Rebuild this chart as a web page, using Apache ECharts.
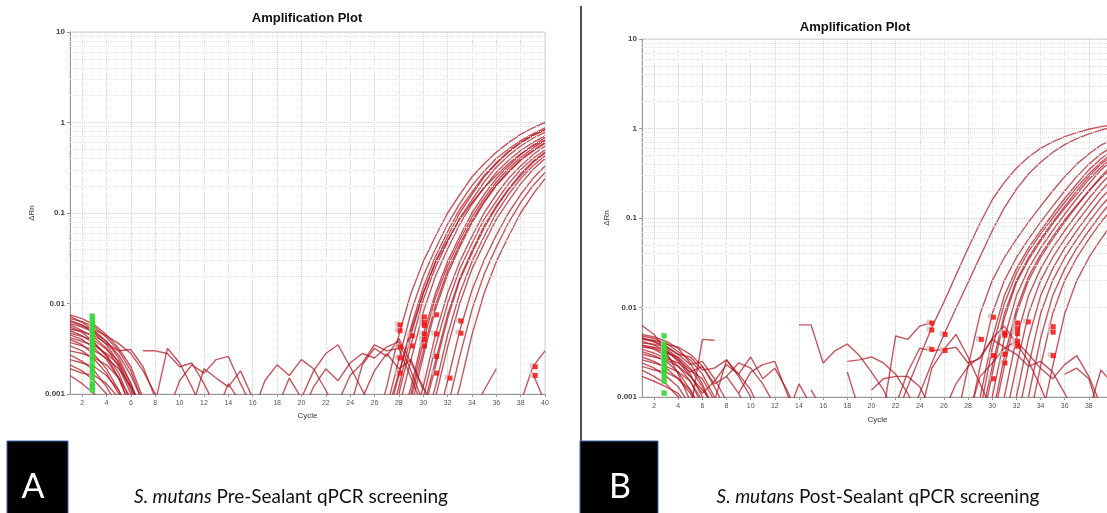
<!DOCTYPE html>
<html>
<head>
<meta charset="utf-8">
<script src="https://cdn.jsdelivr.net/npm/echarts@6.0.0/dist/echarts.min.js"></script>
<style>
html, body { margin: 0; padding: 0; background: #fff; }
#chart { width: 1107px; height: 513px; }
</style>
</head>
<body>
<div id="chart"></div>
<script>
// tick labels
const xTicks = [2, 4, 6, 8, 10, 12, 14, 16, 18, 20, 22, 24, 26, 28, 30, 32, 34, 36, 38, 40];
const minorY = [0.002, 0.003, 0.004, 0.005, 0.006, 0.007, 0.008, 0.009,
  0.02, 0.03, 0.04, 0.05, 0.06, 0.07, 0.08, 0.09,
  0.2, 0.3, 0.4, 0.5, 0.6, 0.7, 0.8, 0.9,
  2, 3, 4, 5, 6, 7, 8, 9];

// ---- panel A (pre-sealant) ----
// baseline traces, each from cycle 1
const baseA = [
  [0.0075, 0.0068, 0.0058, 0.0045, 0.0032, 0.002, 0.0009],
  [0.0072, 0.0062, 0.005, 0.0038, 0.0025, 0.0013, 0.0006],
  [0.0068, 0.0063, 0.0055, 0.0042, 0.003, 0.0018, 0.0008],
  [0.0065, 0.0058, 0.0047, 0.0035, 0.0022, 0.0011, 0.0005],
  [0.006, 0.0055, 0.0048, 0.0038, 0.0027, 0.0016, 0.0008],
  [0.0058, 0.005, 0.0042, 0.0032, 0.002, 0.001, 0.0005],
  [0.0055, 0.0048, 0.0037, 0.0026, 0.0015, 0.0007],
  [0.0052, 0.0049, 0.0044, 0.0036, 0.003, 0.0031, 0.002, 0.0009],
  [0.005, 0.0044, 0.0036, 0.0027, 0.0017, 0.0008],
  [0.0047, 0.0043, 0.0039, 0.0031, 0.0023, 0.0013, 0.0006],
  [0.0045, 0.004, 0.0032, 0.0024, 0.0015, 0.0007],
  [0.0042, 0.0038, 0.0034, 0.0028, 0.0021, 0.0012, 0.0006],
  [0.004, 0.0035, 0.0027, 0.0019, 0.0011, 0.0005],
  [0.0037, 0.0034, 0.003, 0.0025, 0.0019, 0.0012, 0.0006],
  [0.0034, 0.003, 0.0024, 0.0017, 0.001, 0.0005],
  [0.003, 0.0028, 0.0025, 0.0021, 0.0015, 0.0009],
  [0.0027, 0.0023, 0.0018, 0.0012, 0.0007],
  [0.0024, 0.0022, 0.002, 0.0016, 0.0011, 0.0006],
  [0.0021, 0.0018, 0.0014, 0.001, 0.0006],
  [0.0019, 0.0017, 0.0016, 0.0013, 0.0009],
  [0.0016, 0.0013, 0.001, 0.0007],
  [0.0063, 0.0057, 0.0051, 0.0044, 0.0036, 0.0028, 0.0018, 0.001, 0.0005]
];
// noise fragments: [start cycle, values]
const noiseA = [
  [7, [0.003, 0.003, 0.0028, 0.002, 0.0022, 0.0013, 0.0007]],
  [8, [0.0008, 0.0032, 0.0022, 0.0012, 0.0006]],
  [9, [0.0006, 0.0014, 0.0021, 0.0017, 0.0024, 0.0026, 0.0013, 0.0007]],
  [11, [0.0007, 0.0019, 0.0015, 0.0012, 0.0018, 0.0009]],
  [13, [0.0006, 0.0013, 0.0008]],
  [16, [0.0006, 0.0014, 0.0021, 0.0016, 0.0024, 0.0019, 0.0011, 0.0006]],
  [18, [0.0007, 0.0015, 0.0009, 0.0018, 0.0028, 0.0035, 0.002, 0.0011, 0.0006]],
  [20, [0.0006, 0.0012, 0.0019, 0.0014, 0.0022, 0.0028, 0.0025, 0.0033, 0.0038, 0.0018, 0.0008]],
  [23, [0.0008, 0.0016, 0.0022, 0.0035, 0.003, 0.0032, 0.0015, 0.0007]],
  [24, [0.0007, 0.0021, 0.0032, 0.0026, 0.0041, 0.0022, 0.0012, 0.0006]],
  [25, [0.0009, 0.0018, 0.0028, 0.0019, 0.0024, 0.0011]],
  [34, [0.0006, 0.0011, 0.0019]],
  [38, [0.0008, 0.002, 0.003]],
  [39, [0.0017, 0.0008]]
];
// amplification curves: [start cycle, values up to cycle 40]
const ampA = [
  [26, [0.0004, 0.0012, 0.0045, 0.013, 0.029, 0.055, 0.1, 0.16, 0.25, 0.35, 0.47, 0.6, 0.74, 0.87, 1.0]],
  [27, [0.0007, 0.0024, 0.008, 0.02, 0.04, 0.075, 0.127, 0.2, 0.29, 0.4, 0.51, 0.63, 0.75, 0.87]],
  [27, [0.0004, 0.0012, 0.0045, 0.013, 0.029, 0.055, 0.1, 0.16, 0.25, 0.35, 0.47, 0.6, 0.72, 0.82]],
  [27, [0.0005, 0.0016, 0.0055, 0.015, 0.033, 0.062, 0.11, 0.17, 0.26, 0.36, 0.48, 0.6, 0.72, 0.84]],
  [27, [0.0006, 0.0017, 0.005, 0.013, 0.028, 0.05, 0.085, 0.13, 0.19, 0.26, 0.35, 0.45, 0.55, 0.64]],
  [28, [0.001, 0.0035, 0.011, 0.025, 0.048, 0.088, 0.14, 0.22, 0.32, 0.43, 0.55, 0.67, 0.78]],
  [28, [0.0007, 0.0024, 0.008, 0.02, 0.04, 0.075, 0.125, 0.19, 0.28, 0.38, 0.49, 0.6, 0.71]],
  [28, [0.0004, 0.0012, 0.0045, 0.013, 0.029, 0.055, 0.1, 0.16, 0.24, 0.33, 0.44, 0.56, 0.68]],
  [29, [0.001, 0.0038, 0.0115, 0.026, 0.05, 0.09, 0.145, 0.22, 0.31, 0.41, 0.52, 0.63]],
  [29, [0.0009, 0.003, 0.0095, 0.023, 0.045, 0.082, 0.135, 0.205, 0.29, 0.39, 0.49, 0.6]],
  [29, [0.0007, 0.0026, 0.0085, 0.021, 0.042, 0.078, 0.13, 0.2, 0.28, 0.38, 0.48, 0.59]],
  [29, [0.0004, 0.0012, 0.0045, 0.013, 0.029, 0.055, 0.1, 0.16, 0.24, 0.33, 0.44, 0.55]],
  [30, [0.0009, 0.0033, 0.01, 0.024, 0.046, 0.085, 0.135, 0.21, 0.3, 0.4, 0.5]],
  [30, [0.0007, 0.0023, 0.0075, 0.019, 0.038, 0.072, 0.12, 0.185, 0.27, 0.37, 0.47]],
  [30, [0.0006, 0.002, 0.0068, 0.018, 0.036, 0.068, 0.115, 0.18, 0.26, 0.36, 0.46]],
  [30, [0.0004, 0.0012, 0.0045, 0.013, 0.029, 0.055, 0.1, 0.16, 0.24, 0.33, 0.43]],
  [31, [0.0009, 0.0033, 0.01, 0.024, 0.046, 0.085, 0.135, 0.21, 0.3, 0.4]],
  [31, [0.0004, 0.0014, 0.005, 0.014, 0.03, 0.057, 0.1, 0.16, 0.24, 0.33]],
  [32, [0.0007, 0.0026, 0.0085, 0.021, 0.042, 0.078, 0.13, 0.2, 0.28]],
  [32, [0.0004, 0.0012, 0.0045, 0.013, 0.029, 0.055, 0.1, 0.16, 0.24]]
];
const redA = [[28.1, 0.0058], [28.1, 0.005], [28.1, 0.0033], [28.1, 0.0025], [28.1, 0.0017],
  [29.1, 0.0044], [29.1, 0.0034], [30.1, 0.0071], [30.1, 0.0062], [30.1, 0.0057], [30.1, 0.0046],
  [30.1, 0.004], [30.1, 0.0034], [31.1, 0.0075], [31.1, 0.0046], [31.1, 0.0026], [31.1, 0.0017],
  [32.2, 0.0015], [33.1, 0.0064], [33.1, 0.0047], [39.2, 0.002], [39.2, 0.0016]];
const greenA = [0.0072, 0.0065, 0.006, 0.0055, 0.005, 0.0046, 0.0042, 0.0038, 0.0035, 0.0032,
  0.0029, 0.0026, 0.0024, 0.0021, 0.0019, 0.0017, 0.0015, 0.0013, 0.0012, 0.0011];

// ---- panel B (post-sealant) ----
const baseB = [
  [0.0063, 0.005, 0.0032, 0.0018, 0.0009],
  [0.005, 0.0047, 0.0042, 0.0035, 0.0024, 0.0014, 0.0007],
  [0.0048, 0.0045, 0.004, 0.0032, 0.0026, 0.0018, 0.001, 0.0005],
  [0.0046, 0.0042, 0.0035, 0.0027, 0.0018, 0.001, 0.0005],
  [0.0044, 0.0043, 0.0039, 0.0036, 0.003, 0.0022, 0.0013, 0.0007],
  [0.0042, 0.0038, 0.0033, 0.0026, 0.002, 0.0016, 0.0009],
  [0.004, 0.0039, 0.0036, 0.003, 0.0023, 0.0025, 0.0016, 0.0009],
  [0.0038, 0.0034, 0.0029, 0.0022, 0.0015, 0.0008],
  [0.0036, 0.0035, 0.0031, 0.0028, 0.0021, 0.0013, 0.0007],
  [0.0034, 0.0031, 0.0027, 0.0024, 0.0019, 0.0022, 0.0014, 0.0017, 0.0011, 0.0006],
  [0.0032, 0.0029, 0.0025, 0.0019, 0.0012, 0.0006],
  [0.003, 0.0028, 0.0026, 0.0022, 0.0017, 0.0012, 0.0008],
  [0.0028, 0.0025, 0.0021, 0.0016, 0.0011, 0.0006],
  [0.0026, 0.0024, 0.0022, 0.0019, 0.0015, 0.0009],
  [0.0024, 0.0021, 0.0017, 0.0013, 0.0008],
  [0.0022, 0.002, 0.0019, 0.0016, 0.0012, 0.0007],
  [0.002, 0.0017, 0.0014, 0.001, 0.0006],
  [0.0017, 0.0015, 0.0013, 0.0011, 0.0007],
  [0.0045, 0.0041, 0.0037, 0.003, 0.0028, 0.002, 0.0021, 0.0026, 0.0017, 0.001, 0.0006],
  [0.0038, 0.0036, 0.0033, 0.0025, 0.0017, 0.0011, 0.0015, 0.0023, 0.0018, 0.0012, 0.0006]
];
const noiseB = [
  [5, [0.0007, 0.0044, 0.0043]],
  [7, [0.0009, 0.0026, 0.0018, 0.0028, 0.0016, 0.0021, 0.0012, 0.0006]],
  [8, [0.0017, 0.0024, 0.0021, 0.0014, 0.0008]],
  [9, [0.0011, 0.0019, 0.0023, 0.0025, 0.0011, 0.0005]],
  [13, [0.0006, 0.0014, 0.0008]],
  [14, [0.0064, 0.0064, 0.0024, 0.0033, 0.0039, 0.0029, 0.0019, 0.0012, 0.0006]],
  [15, [0.0012, 0.0007]],
  [18, [0.0025, 0.0026, 0.0028, 0.0024, 0.0018, 0.0011, 0.0006]],
  [18, [0.0019, 0.0007]],
  [20, [0.0012, 0.0016, 0.0017, 0.0017, 0.0013, 0.0007]],
  [21, [0.0007, 0.0048, 0.0044, 0.0062, 0.0068]],
  [22, [0.0008, 0.0019, 0.0035, 0.0033, 0.0034, 0.005, 0.0028, 0.0014, 0.0007]],
  [24, [0.0006, 0.0021, 0.0034, 0.0036, 0.0024, 0.0027, 0.0045, 0.0062, 0.004, 0.0025, 0.0013, 0.0006]],
  [26, [0.0007, 0.0014, 0.0022, 0.0028, 0.0044, 0.0036, 0.003, 0.0022, 0.0025, 0.0019, 0.0011, 0.0006]],
  [28, [0.0006, 0.0017, 0.0024, 0.0035, 0.0042, 0.003, 0.0021, 0.0016, 0.0023, 0.0029, 0.0017, 0.0008]],
  [36, [0.0018, 0.0021, 0.0016, 0.0006]],
  [38, [0.0007, 0.002, 0.0014]]
];
const ampB = [
  [22, [0.0006, 0.0013, 0.0028, 0.006, 0.0115, 0.023, 0.046, 0.088, 0.16, 0.25, 0.36, 0.48, 0.6, 0.71, 0.81, 0.9, 0.98, 1.05, 1.1]],
  [23, [0.0005, 0.0011, 0.0024, 0.005, 0.0098, 0.019, 0.037, 0.072, 0.13, 0.21, 0.31, 0.42, 0.54, 0.66, 0.77, 0.87, 0.96, 1.04]],
  [27, [0.0005, 0.0022, 0.0085, 0.02, 0.036, 0.058, 0.09, 0.135, 0.2, 0.29, 0.4, 0.52, 0.65, 0.76]],
  [28, [0.0005, 0.0022, 0.0085, 0.02, 0.036, 0.058, 0.09, 0.135, 0.2, 0.29, 0.4, 0.52, 0.63]],
  [29, [0.001, 0.0045, 0.0135, 0.027, 0.046, 0.072, 0.11, 0.165, 0.24, 0.345, 0.46, 0.57]],
  [29, [0.0007, 0.0035, 0.011, 0.024, 0.042, 0.066, 0.1, 0.15, 0.22, 0.31, 0.42, 0.53]],
  [29, [0.0005, 0.0022, 0.0085, 0.02, 0.036, 0.058, 0.09, 0.135, 0.2, 0.29, 0.4, 0.5]],
  [29, [0.0004, 0.0018, 0.0075, 0.019, 0.034, 0.055, 0.086, 0.128, 0.185, 0.27, 0.37, 0.47]],
  [30, [0.001, 0.0045, 0.0135, 0.027, 0.046, 0.072, 0.11, 0.165, 0.24, 0.345, 0.45]],
  [30, [0.0005, 0.0022, 0.0085, 0.02, 0.036, 0.058, 0.09, 0.135, 0.2, 0.29, 0.4]],
  [30, [0.0006, 0.0028, 0.0095, 0.022, 0.039, 0.062, 0.095, 0.14, 0.2, 0.28, 0.37]],
  [31, [0.001, 0.0045, 0.0135, 0.027, 0.046, 0.072, 0.11, 0.165, 0.24, 0.33]],
  [31, [0.0005, 0.0022, 0.0085, 0.02, 0.036, 0.058, 0.09, 0.135, 0.2, 0.28]],
  [32, [0.001, 0.0045, 0.0135, 0.027, 0.046, 0.072, 0.11, 0.165, 0.23]],
  [32, [0.0005, 0.0022, 0.0085, 0.02, 0.036, 0.058, 0.09, 0.135, 0.19]],
  [33, [0.001, 0.0045, 0.0135, 0.027, 0.046, 0.072, 0.11, 0.16]],
  [33, [0.0005, 0.0022, 0.0085, 0.02, 0.036, 0.058, 0.09, 0.13]],
  [34, [0.0005, 0.0022, 0.0085, 0.02, 0.036, 0.058, 0.088]]
];
const redB = [[25, 0.0067], [25, 0.0056], [25, 0.0034], [26.1, 0.005], [26.1, 0.0033], [29.1, 0.0044],
  [30.1, 0.0078], [30.1, 0.0029], [30.1, 0.0016], [31.05, 0.0052], [31.05, 0.0049], [31.05, 0.003],
  [31.05, 0.0024], [32.1, 0.0067], [32.1, 0.0058], [32.1, 0.0051], [32.1, 0.0042], [32.1, 0.0037],
  [33, 0.0069], [35.05, 0.0061], [35.05, 0.0053], [35.05, 0.0029]];
const greenB = [0.0048, 0.0039, 0.0036, 0.0033, 0.003, 0.0028, 0.0026, 0.0024, 0.0022, 0.002,
  0.0019, 0.0017, 0.0015, 0.0011];
const greenCycle = 2.85;

const chart = echarts.init(document.getElementById('chart'));

const lineColor = 'rgba(176,20,32,0.72)';

function pts(start, vals) {
  return vals.map((v, i) => [start + i, v]);
}

function lineSeries(data, idx) {
  return {
    type: 'line', xAxisIndex: idx, yAxisIndex: idx, data: data,
    showSymbol: false, silent: true, clip: true,
    lineStyle: { color: lineColor, width: 1.4 }
  };
}

function panelSeries(idx, base, noise, amp, red, green) {
  const out = [];
  // minor log grid lines
  out.push({
    type: 'line', xAxisIndex: idx, yAxisIndex: idx, data: [], silent: true,
    markLine: {
      silent: true, symbol: ['none', 'none'], label: { show: false },
      lineStyle: { type: 'dotted', color: '#e4e4e4', width: 1 },
      data: minorY.map(v => ({ yAxis: v }))
    }
  });
  base.forEach(b => out.push(lineSeries(pts(1, b), idx)));
  noise.forEach(n => out.push(lineSeries(pts(n[0], n[1]), idx)));
  amp.forEach(a => out.push(lineSeries(pts(a[0], a[1]), idx)));
  const gData = green.map(v => [greenCycle, v]);
  out.push({
    type: 'scatter', xAxisIndex: idx, yAxisIndex: idx, data: gData, silent: true,
    symbol: 'rect', symbolSize: 5, symbolOffset: [-1, -1], itemStyle: { color: '#c4c4c4' }, z: 3
  });
  out.push({
    type: 'scatter', xAxisIndex: idx, yAxisIndex: idx, data: gData, silent: true,
    symbol: 'rect', symbolSize: 5, itemStyle: { color: '#1fe01f' }, z: 4
  });
  out.push({
    type: 'scatter', xAxisIndex: idx, yAxisIndex: idx, data: red, silent: true,
    symbol: 'rect', symbolSize: 5, symbolOffset: [-3, -1], itemStyle: { color: '#c8c8c8' }, z: 3
  });
  out.push({
    type: 'scatter', xAxisIndex: idx, yAxisIndex: idx, data: red, silent: true,
    symbol: 'rect', symbolSize: 5, itemStyle: { color: '#ff0000' }, z: 4
  });
  return out;
}

function xAxisCfg(idx, gap) {
  return {
    type: 'value', gridIndex: idx, min: 1, max: 40,
    name: 'Cycle', nameLocation: 'middle', nameGap: gap,
    nameTextStyle: { fontSize: 8, color: '#333', fontFamily: 'Liberation Sans' },
    axisLine: { lineStyle: { color: '#999' } },
    axisTick: { show: true, customValues: xTicks, length: 3, lineStyle: { color: '#999' } },
    axisLabel: { customValues: xTicks, fontSize: 7, color: '#555', margin: 6, fontFamily: 'Liberation Sans' },
    splitLine: { show: true, lineStyle: { type: 'dotted', color: '#d8d8d8' } }
  };
}

function yAxisCfg(idx, gap) {
  return {
    type: 'log', logBase: 10, gridIndex: idx, min: 0.001, max: 10,
    name: 'ΔRn', nameLocation: 'middle', nameGap: gap, nameRotate: 90,
    nameTextStyle: { fontSize: 8, color: '#333', fontFamily: 'Liberation Sans' },
    axisLine: { show: true, lineStyle: { color: '#999' } },
    axisTick: { show: true, length: 3, lineStyle: { color: '#999' } },
    axisLabel: { fontSize: 8, fontWeight: 'bold', color: '#444', margin: 5, fontFamily: 'Liberation Sans' },
    splitLine: { show: true, lineStyle: { type: 'dotted', color: '#d0d0d0' } }
  };
}

const captionFont = 'Lato';

const option = {
  animation: false,
  backgroundColor: '#fff',
  grid: [
    { left: 70, top: 32, width: 475, height: 362, show: true, borderColor: '#d0d0d0', outerBoundsMode: 'none' },
    { left: 642, top: 39, width: 471, height: 358, show: true, borderColor: '#d0d0d0', outerBoundsMode: 'none' }
  ],
  xAxis: [xAxisCfg(0, 16), xAxisCfg(1, 19)],
  yAxis: [yAxisCfg(0, 34), yAxisCfg(1, 31)],
  series: panelSeries(0, baseA, noiseA, ampA, redA, greenA)
    .concat(panelSeries(1, baseB, noiseB, ampB, redB, greenB)),
  graphic: [
    { type: 'text', x: 307, y: 18, style: { text: 'Amplification Plot', font: 'bold 13px "Liberation Sans"', fill: '#111', textAlign: 'center', textVerticalAlign: 'middle' } },
    { type: 'text', x: 855, y: 27, style: { text: 'Amplification Plot', font: 'bold 13px "Liberation Sans"', fill: '#111', textAlign: 'center', textVerticalAlign: 'middle' } },
    { type: 'line', shape: { x1: 581, y1: 6, x2: 581, y2: 441 }, style: { stroke: '#111', lineWidth: 1.5 } },
    { type: 'rect', shape: { x: 7, y: 441, width: 61, height: 80 }, style: { fill: '#000', stroke: '#3a64b0', lineWidth: 1 } },
    { type: 'rect', shape: { x: 580, y: 441, width: 78, height: 80 }, style: { fill: '#000', stroke: '#3a64b0', lineWidth: 1 } },
    { type: 'text', x: 33, y: 487, style: { text: 'A', font: '34px ' + captionFont, fill: '#fff', textAlign: 'center', textVerticalAlign: 'middle' } },
    { type: 'text', x: 620, y: 487, style: { text: 'B', font: '34px ' + captionFont, fill: '#fff', textAlign: 'center', textVerticalAlign: 'middle' } },
    {
      type: 'text', x: 291, y: 497,
      style: {
        text: '{i|S. mutans} Pre-Sealant qPCR screening', fill: '#111', textAlign: 'center', textVerticalAlign: 'middle',
        font: '19px ' + captionFont,
        rich: { i: { fontStyle: 'italic', fontSize: 19, fontFamily: captionFont, fill: '#111' } }
      }
    },
    {
      type: 'text', x: 878, y: 497,
      style: {
        text: '{i|S. mutans} Post-Sealant qPCR screening', fill: '#111', textAlign: 'center', textVerticalAlign: 'middle',
        font: '19px ' + captionFont,
        rich: { i: { fontStyle: 'italic', fontSize: 19, fontFamily: captionFont, fill: '#111' } }
      }
    }
  ]
};

chart.setOption(option);
window.addEventListener('resize', () => chart.resize());
</script>
</body>
</html>
